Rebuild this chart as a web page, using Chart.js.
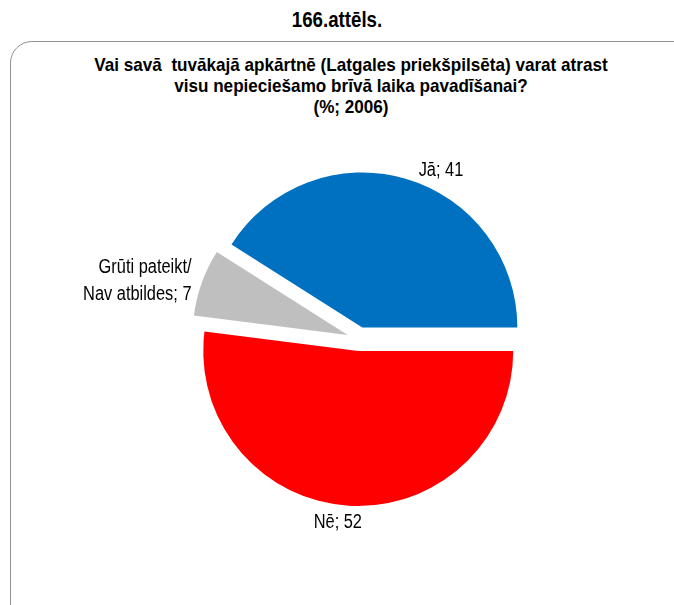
<!DOCTYPE html>
<html>
<head>
<meta charset="utf-8">
<script src="https://cdn.jsdelivr.net/npm/chart.js@4/dist/chart.umd.min.js"></script>
<style>
  html, body { margin: 0; padding: 0; background: #fff; }
  body { width: 674px; height: 605px; overflow: hidden; position: relative;
         font-family: "Liberation Sans", Arial, sans-serif; color: #000; }
  #fig { position: absolute; left: 0; top: 7px; width: 674px; text-align: center;
         font-size: 22px; font-weight: bold; line-height: 26px;
         transform: scaleX(0.85); }
  #box { position: absolute; left: 10px; top: 41px; width: 690px; height: 590px;
         border: 1.5px solid #929292; border-radius: 22px; }
  #question { position: absolute; left: 1px; top: 54px; width: 700px; text-align: center;
              font-size: 19px; font-weight: bold; line-height: 21px;
              transform: scaleX(0.9); }
  #chart { position: absolute; left: 0; top: 0; }
</style>
</head>
<body>
<div id="fig">166.attēls.</div>
<div id="box"></div>
<div id="question">Vai savā&nbsp; tuvākajā apkārtnē (Latgales priekšpilsēta) varat atrast<br>visu nepieciešamo brīvā laika pavadīšanai?<br>(%; 2006)</div>
<canvas id="chart" width="674" height="605"></canvas>
<script>
  // data
  const categories = ['Jā', 'Nē', 'Grūti pateikt/\nNav atbildes'];
  const values = [41, 52, 7];
  const colors = ['#0070C0', '#FF0000', '#BFBFBF'];
  // small hand nudges for the data labels (Excel "best fit" look)
  const labelNudge = [[10, 2], [-10, 6], [0, 2]];

  // chart.js' own "offset" also grows the radius of each slice by a different
  // amount, so shift every arc by the same distance along its mid angle instead
  const explodeSlices = {
    id: 'explodeSlices',
    afterUpdate: function(chart, args, opts) {
      chart.getDatasetMeta(0).data.forEach(function(arc) {
        if (arc.explodeWrapped) return;
        const draw = arc.draw;
        arc.explodeWrapped = true;
        arc.draw = function(ctx) {
          const mid = (this.startAngle + this.endAngle) / 2;
          ctx.save();
          ctx.translate(Math.cos(mid) * opts.distance, Math.sin(mid) * opts.distance);
          draw.call(this, ctx);
          ctx.restore();
        };
      });
    }
  };

  const sliceLabels = {
    id: 'sliceLabels',
    afterDatasetsDraw: function(chart, args, opts) {
      const ctx = chart.ctx;
      const meta = chart.getDatasetMeta(0);
      ctx.save();
      ctx.fillStyle = '#000';
      ctx.font = '20px "Liberation Sans", Arial, sans-serif';
      ctx.textBaseline = 'middle';
      meta.data.forEach(function(arc, i) {
        const p = arc.getProps(['x', 'y', 'startAngle', 'endAngle', 'outerRadius']);
        const mid = (p.startAngle + p.endAngle) / 2;
        const dist = p.outerRadius + opts.distance;
        const x = p.x + Math.cos(mid) * dist + labelNudge[i][0];
        const y = p.y + Math.sin(mid) * dist + labelNudge[i][1];
        const c = Math.cos(mid);
        ctx.textAlign = c > 0.2 ? 'left' : (c < -0.2 ? 'right' : 'center');
        const lines = (categories[i] + '; ' + values[i]).split('\n');
        ctx.save();
        ctx.translate(x, y);
        ctx.scale(0.82, 1);
        lines.forEach(function(line, k) {
          ctx.fillText(line, 0, (k - (lines.length - 1) / 2) * 27);
        });
        ctx.restore();
      });
      ctx.restore();
    }
  };

  new Chart('chart', {
    type: 'pie',
    data: {
      labels: categories,
      datasets: [{
        data: values,
        backgroundColor: colors,
        borderWidth: 0,
        hoverOffset: 0
      }]
    },
    options: {
      responsive: false,
      animation: false,
      rotation: -57.6,
      radius: 155,
      layout: { padding: { left: 44, right: 0, top: 120, bottom: 47 } },
      plugins: {
        legend: { display: false },
        tooltip: { enabled: false },
        explodeSlices: { distance: 12 },
        sliceLabels: { distance: 23 }
      }
    },
    plugins: [explodeSlices, sliceLabels]
  });
</script>
</body>
</html>
